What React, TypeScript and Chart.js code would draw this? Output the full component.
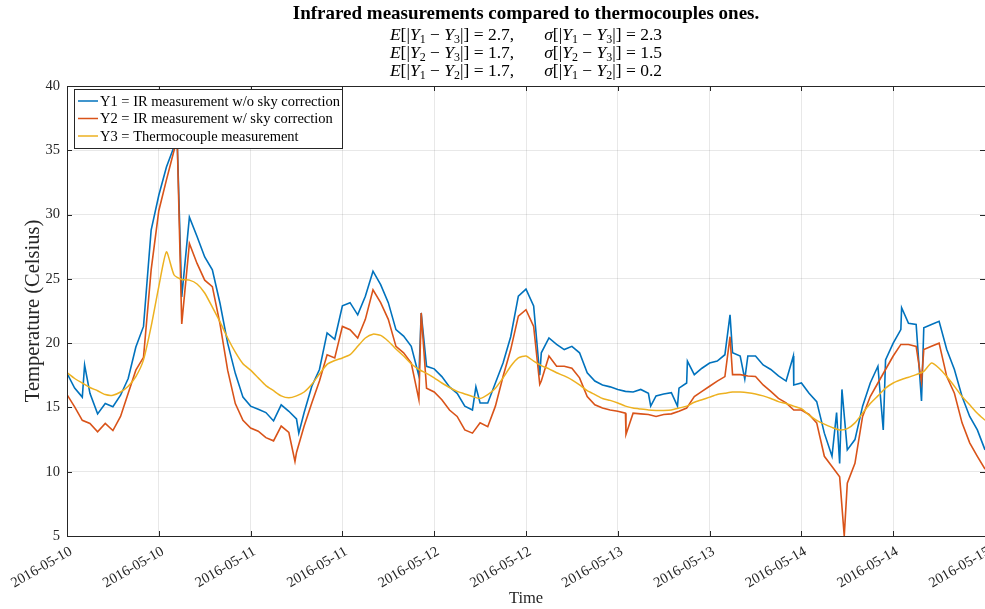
import React, { useEffect, useRef } from "react";
import { Chart, registerables } from "chart.js";

Chart.register(...registerables);

// ---------- DATA ----------
const hours = Array.from({ length: 121 }, (_, i) => i); // hours since 2016-05-10 00:00

const y1Values = [
  17.65, 16.5, 15.8, 16.1, 14.5, 15.3, 15.05, 15.95, 17.25, 19.7, 21.3, 28.8,
  31.5, 33.7, 35.3, 23.6, 29.8, 28.3, 26.7, 25.7, 23.1, 20.0, 17.65, 15.8,
  15.1, 14.85, 14.6, 13.95, 15.2, 14.7, 14.1, 14.6, 16.65, 17.95, 20.8, 20.3,
  22.9, 23.15, 22.2, 23.65, 25.6, 24.55, 23.15, 21.05, 20.55, 19.75, 17.45, 18.2,
  18.0, 17.4, 16.6, 16.1, 15.1, 14.8, 15.35, 15.35, 16.9, 18.45, 20.5, 23.65,
  24.2, 22.9, 19.25, 20.4, 19.9, 19.5, 19.75, 19.25, 17.7, 17.05, 16.75, 16.6,
  16.4, 16.25, 16.2, 16.4, 16.1, 15.9, 16.05, 16.15, 16.5, 16.9, 17.55, 18.05,
  18.45, 18.6, 19.1, 19.25, 19.0, 19.0, 19.0, 18.3, 17.95, 17.45, 17.05, 16.75,
  16.9, 16.1, 15.45, 13.0, 11.2, 10.65, 11.7, 12.5, 15.1, 16.9, 18.2, 18.7,
  20.0, 21.05, 21.55, 21.45, 21.2, 21.45, 21.7, 19.5, 17.95, 15.85, 14.3, 13.25,
  11.7,
];

const y2Values = [
  16.0, 15.05, 14.0, 13.75, 13.1, 13.75, 13.2, 14.3, 16.1, 17.9, 18.9, 25.7,
  30.3, 32.7, 35.0, 21.5, 27.75, 26.2, 24.9, 24.4, 21.5, 17.9, 15.3, 14.0,
  13.4, 13.15, 12.65, 12.4, 13.55, 13.05, 11.5, 13.55, 15.35, 17.05, 19.1, 18.85,
  21.3, 21.05, 20.4, 21.85, 24.15, 23.15, 21.85, 19.75, 19.25, 18.45, 15.6, 16.5,
  16.2, 15.6, 14.8, 14.3, 13.25, 13.0, 13.8, 13.5, 15.1, 17.4, 19.5, 22.1,
  22.6, 21.3, 17.05, 19.0, 18.2, 18.2, 18.05, 17.3, 15.85, 15.2, 14.95, 14.8,
  14.7, 14.55, 14.55, 14.5, 14.45, 14.3, 14.45, 14.5, 14.7, 14.95, 15.85, 16.25,
  16.65, 17.05, 17.4, 17.55, 17.55, 17.45, 17.4, 16.75, 16.25, 15.7, 15.35, 14.8,
  14.8, 14.45, 13.8, 11.2, 10.4, 9.6, 9.1, 10.65, 14.3, 15.85, 16.9, 17.95,
  19.0, 19.9, 19.9, 19.75, 19.5, 19.75, 20.0, 17.4, 16.1, 13.8, 12.25, 11.2,
  10.2,
];

const y3Values = [
  17.7, 17.25, 16.9, 16.55, 16.3, 16.0, 15.95, 16.2, 16.65, 17.4, 18.7, 21.3,
  24.4, 27.1, 25.3, 24.95, 24.9, 24.6, 23.9, 22.8, 21.65, 20.4, 19.3, 18.4,
  17.9, 17.3, 16.7, 16.3, 15.9, 15.75, 15.9, 16.2, 16.8, 17.6, 18.35, 18.65,
  18.85, 19.1, 19.75, 20.4, 20.7, 20.6, 20.15, 19.55, 19.0, 18.4, 17.95, 17.65,
  17.3, 16.9, 16.55, 16.25, 16.05, 15.85, 15.7, 16.0, 16.5, 17.3, 18.2, 18.85,
  19.0, 18.6, 18.25, 18.0, 17.7, 17.45, 17.15, 16.75, 16.3, 16.0, 15.7, 15.55,
  15.35, 15.1, 14.95, 14.87, 14.8, 14.77, 14.77, 14.8, 14.95, 15.1, 15.4, 15.6,
  15.8, 16.0, 16.1, 16.2, 16.2, 16.15, 16.05, 15.9, 15.7, 15.45, 15.3, 15.1,
  14.9, 14.4, 14.0, 13.7, 13.45, 13.25, 13.35, 13.8, 14.55, 15.3, 15.9, 16.5,
  16.9, 17.15, 17.35, 17.55, 17.8, 18.45, 18.05, 17.4, 16.65, 15.85, 15.2, 14.55,
  14.0,
];

// isolated spikes (hours, value)
const y1SpikeHours = [2.3, 14.4, 30.3, 46.3, 53.45, 61.8, 76.3, 79.8, 81.1, 86.67, 88.6, 94.95, 100.6, 101.3, 106.7, 109.1, 111.7];
const y1SpikeValues = [18.3, 35.9, 13.0, 22.35, 16.6, 17.5, 15.1, 15.1, 18.6, 22.2, 17.2, 19.0, 14.6, 16.4, 13.25, 22.75, 15.5];
const y2SpikeHours = [14.4, 29.8, 46.3, 61.8, 73.07, 86.67, 101.6, 111.7];
const y2SpikeValues = [35.9, 10.8, 22.35, 16.8, 12.9, 20.5, 5.0, 17.0];

const xTickHours = [0, 12, 24, 36, 48, 60, 72, 84, 96, 108, 120];
const xTickLabels = [
  "2016-05-10", "2016-05-10", "2016-05-11", "2016-05-11", "2016-05-12", "2016-05-12",
  "2016-05-13", "2016-05-13", "2016-05-14", "2016-05-14", "2016-05-15",
];
const yTickValues = [5, 10, 15, 20, 25, 30, 35, 40];

const seriesLabels = [
  "Y1 = IR measurement w/o sky correction",
  "Y2 = IR measurement w/ sky correction",
  "Y3 = Thermocouple measurement",
];
const seriesColors = ["#0072BD", "#D95319", "#EDB120"];

const titleText = "Infrared measurements compared to thermocouples ones.";
const diffPairs = [[1, 3], [2, 3], [1, 2]];
const meanDiff = [2.7, 1.7, 1.7];
const stdDiff = [2.3, 1.5, 0.2];

// ---------- STYLE ----------
const FONT = "'Liberation Serif', 'Times New Roman', serif";
const AXIS_COLOR = "#262626";
const CANVAS_W = 1040;
const CANVAS_H = 609;

function mergeSeries(values: number[], spikeH: number[], spikeV: number[]) {
  const pts = hours.map((h, i) => ({ x: h, y: values[i] }));
  spikeH.forEach((h, i) => pts.push({ x: h, y: spikeV[i] }));
  pts.sort((a, b) => a.x - b.x);
  return pts;
}

const titlePlugin = {
  id: "mTitle",
  afterDraw(chart: any) {
    const { ctx, chartArea: a } = chart;
    const cx = (a.left + a.right) / 2;
    ctx.save();
    ctx.fillStyle = "#000";
    ctx.textBaseline = "alphabetic";
    ctx.textAlign = "center";
    ctx.font = `bold 19px ${FONT}`;
    ctx.fillText(titleText, cx, 19);

    const size = 17.5;
    const roman = `${size}px ${FONT}`;
    const italic = `italic ${size}px ${FONT}`;
    const sub = `${Math.round(size * 0.68)}px ${FONT}`;
    ctx.textAlign = "left";
    const baselines = [40, 58, 76];
    diffPairs.forEach(([p, q], k) => {
      const part = (sym: string) => [
        { t: sym, f: italic },
        { t: "[|", f: roman },
        { t: "Y", f: italic },
        { t: String(p), f: sub, dy: 3 },
        { t: " − ", f: roman },
        { t: "Y", f: italic },
        { t: String(q), f: sub, dy: 3 },
        { t: "|] = ", f: roman },
      ];
      const segs: any[] = [
        ...part("E"),
        { t: meanDiff[k].toFixed(1) + ",", f: roman },
        { t: "", f: roman, gap: 30 },
        ...part("σ"),
        { t: stdDiff[k].toFixed(1), f: roman },
      ];
      let total = 0;
      segs.forEach((s) => {
        ctx.font = s.f;
        s.w = ctx.measureText(s.t).width + (s.gap || 0);
        total += s.w;
      });
      let x = cx - total / 2;
      segs.forEach((s) => {
        ctx.font = s.f;
        ctx.fillText(s.t, x, baselines[k] + (s.dy || 0));
        x += s.w;
      });
    });
    ctx.restore();
  },
};

const boxPlugin = {
  id: "mBox",
  afterDraw(chart: any) {
    const { ctx, chartArea: a, scales } = chart;
    ctx.save();
    ctx.strokeStyle = AXIS_COLOR;
    ctx.lineWidth = 1;
    ctx.beginPath();
    ctx.rect(Math.round(a.left) + 0.5, Math.round(a.top) + 0.5, Math.round(a.right - a.left), Math.round(a.bottom - a.top));
    ctx.stroke();
    const len = 5;
    ctx.beginPath();
    xTickHours.forEach((h) => {
      const x = Math.round(scales.x.getPixelForValue(h)) + 0.5;
      ctx.moveTo(x, a.bottom);
      ctx.lineTo(x, a.bottom - len);
      ctx.moveTo(x, a.top);
      ctx.lineTo(x, a.top + len);
    });
    yTickValues.forEach((v) => {
      const y = Math.round(scales.y.getPixelForValue(v)) + 0.5;
      ctx.moveTo(a.left, y);
      ctx.lineTo(a.left + len, y);
      ctx.moveTo(a.right, y);
      ctx.lineTo(a.right - len, y);
    });
    ctx.stroke();
    ctx.restore();
  },
};

const legendPlugin = {
  id: "mLegend",
  afterDraw(chart: any) {
    const { ctx, chartArea: a } = chart;
    const left = a.left + 7;
    const top = a.top + 3;
    const w = 268;
    const h = 59;
    ctx.save();
    ctx.fillStyle = "#fff";
    ctx.fillRect(left, top, w, h);
    ctx.strokeStyle = AXIS_COLOR;
    ctx.lineWidth = 1;
    ctx.strokeRect(left + 0.5, top + 0.5, w, h);
    ctx.font = `14.5px ${FONT}`;
    ctx.textBaseline = "middle";
    ctx.textAlign = "left";
    seriesLabels.forEach((lab, i) => {
      const y = top + 12 + i * 17.5;
      ctx.strokeStyle = seriesColors[i];
      ctx.lineWidth = 1.5;
      ctx.beginPath();
      ctx.moveTo(left + 4, y);
      ctx.lineTo(left + 24, y);
      ctx.stroke();
      ctx.fillStyle = "#000";
      ctx.fillText(lab, left + 26, y + 1);
    });
    ctx.restore();
  },
};

export default function App() {
  const ref = useRef<HTMLCanvasElement | null>(null);

  useEffect(() => {
    if (!ref.current) return;
    const chart = new Chart(ref.current, {
      type: "line",
      data: {
        datasets: [
          {
            label: seriesLabels[0],
            data: mergeSeries(y1Values, y1SpikeHours, y1SpikeValues),
            borderColor: seriesColors[0],
            borderWidth: 1.6,
            pointRadius: 0,
            tension: 0,
            order: 3,
          },
          {
            label: seriesLabels[1],
            data: mergeSeries(y2Values, y2SpikeHours, y2SpikeValues),
            borderColor: seriesColors[1],
            borderWidth: 1.6,
            pointRadius: 0,
            tension: 0,
            order: 2,
          },
          {
            label: seriesLabels[2],
            data: mergeSeries(y3Values, [], []),
            borderColor: seriesColors[2],
            borderWidth: 1.5,
            pointRadius: 0,
            tension: 0.2,
            order: 1,
          },
        ],
      },
      options: {
        responsive: false,
        animation: false,
        devicePixelRatio: 1,
        layout: { padding: { top: 86, right: CANVAS_W - 985, bottom: 0, left: 0 } },
        plugins: {
          legend: { display: false },
          title: { display: false },
          tooltip: { enabled: false },
        },
        scales: {
          x: {
            type: "linear",
            min: 0,
            max: 120,
            afterBuildTicks: (scale: any) => {
              scale.ticks = xTickHours.map((v) => ({ value: v }));
            },
            afterFit: (scale: any) => {
              scale.height = CANVAS_H - 536;
              scale.paddingLeft = 0;
              scale.paddingRight = 0;
            },
            ticks: {
              autoSkip: false,
              minRotation: 30,
              maxRotation: 30,
              padding: 7,
              labelOffset: 4,
              color: AXIS_COLOR,
              font: { family: FONT, size: 14.5 },
              callback: (value: any) => {
                const i = xTickHours.indexOf(Number(value));
                return i >= 0 ? xTickLabels[i] : "";
              },
            },
            grid: { color: "rgba(0,0,0,0.09)", drawTicks: false },
            border: { display: false },
            title: {
              display: true,
              text: "Time",
              color: AXIS_COLOR,
              font: { family: FONT, size: 16.5 },
              padding: { top: 0, bottom: 0 },
            },
          },
          y: {
            type: "linear",
            min: 5,
            max: 40,
            afterFit: (scale: any) => {
              scale.width = 67;
            },
            ticks: {
              stepSize: 5,
              padding: 7,
              color: AXIS_COLOR,
              font: { family: FONT, size: 14.5 },
            },
            grid: { color: "rgba(0,0,0,0.09)", drawTicks: false },
            border: { display: false },
            title: {
              display: true,
              text: "Temperature (Celsius)",
              color: AXIS_COLOR,
              font: { family: FONT, size: 20.5 },
              padding: { top: 21, bottom: 0 },
            },
          },
        },
      },
      plugins: [boxPlugin, legendPlugin, titlePlugin],
    } as any);
    return () => chart.destroy();
  }, []);

  return (
    <div
      style={{
        position: "absolute",
        left: 0,
        top: 0,
        width: 985,
        height: CANVAS_H,
        overflow: "hidden",
        background: "#fff",
      }}
    >
      <canvas
        ref={ref}
        width={CANVAS_W}
        height={CANVAS_H}
        style={{ display: "block", width: CANVAS_W, height: CANVAS_H }}
      />
    </div>
  );
}
